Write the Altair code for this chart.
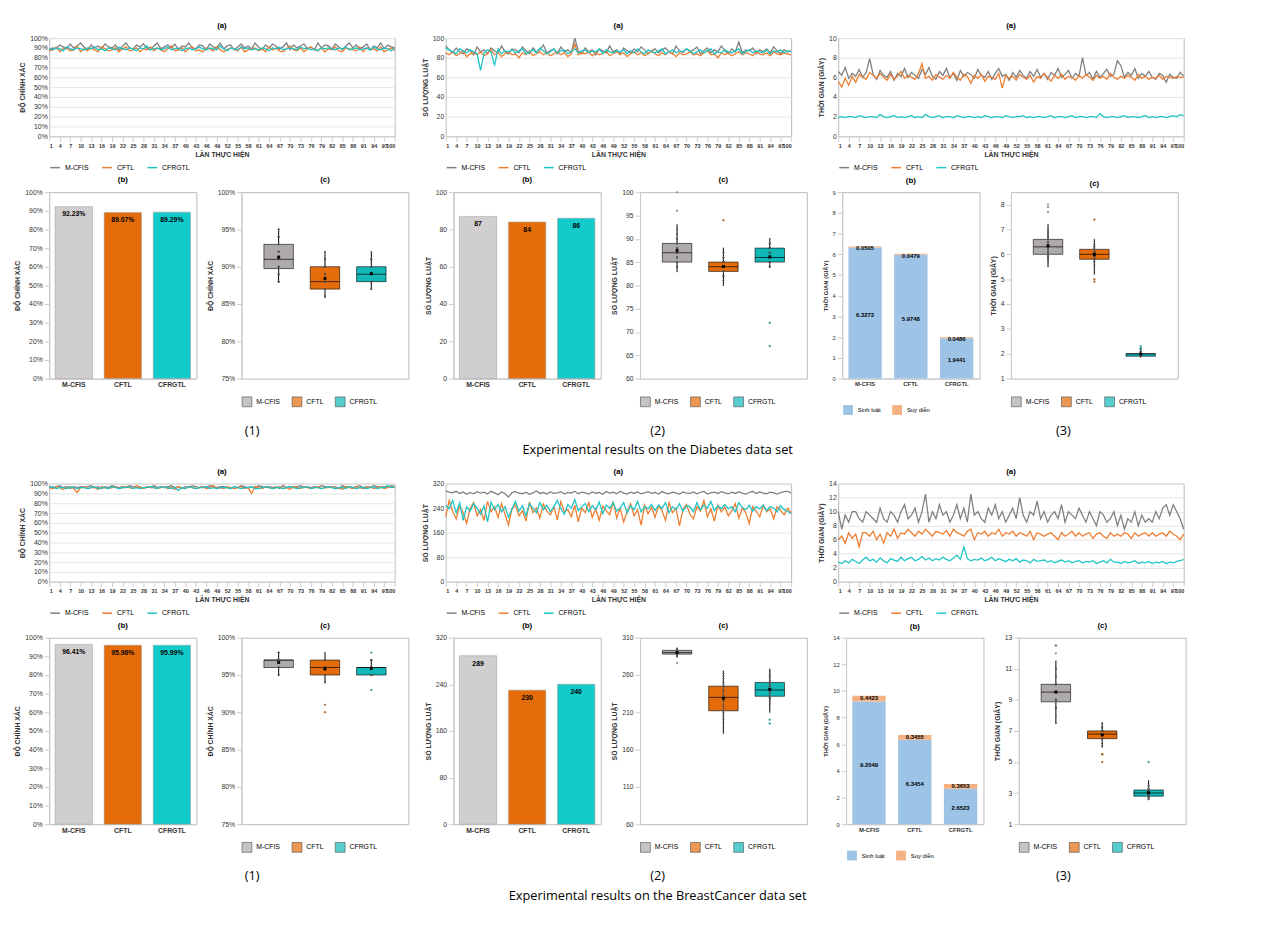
import altair as alt
import pandas as pd

METHODS = ["M-CFIS", "CFTL", "CFRGTL"]
LINE_COLORS = ["#7f7f7f", "#ed7d31", "#1fc4c4"]
BAR_COLORS = ["#d0cece", "#e46c0a", "#12cccc"]
BOX_COLORS = ["#aeaaaa", "#e46c0a", "#12b8b8"]

# ---------------- Diabetes ----------------
d_acc_m = [88,90,89,93,91,89,94,90,92,95, 91,88,93,90,92,89,94,91,90,93, 88,92,95,90,89,93,91,94,90,88, 92,95,89,91,93,90,94,88,92,91, 95,90,89,93,92,88,94,91,90,95,
           89,92,93,88,91,94,90,92,89,95, 91,88,93,90,94,92,89,91,95,88, 93,90,92,94,89,91,88,95,90,93, 92,89,94,91,88,92,95,90,93,89, 91,94,88,92,90,95,89,93,91,90]
d_acc_c = [87,88,91,86,89,90,87,88,92,86, 89,87,90,88,86,91,89,87,88,90, 86,89,91,87,88,90,86,89,88,91, 87,90,88,86,89,92,87,88,90,86, 89,91,87,88,86,90,89,87,91,88,
           86,88,90,89,87,91,86,88,89,90, 87,89,86,91,88,90,87,86,89,92, 88,87,90,86,89,91,88,87,90,86, 89,88,91,87,86,90,89,88,87,91, 86,90,88,89,87,91,86,88,90,87]
d_acc_r = [89,88,90,89,87,91,89,88,90,89, 88,90,89,91,88,89,87,90,89,88, 91,89,88,90,89,87,90,89,92,88, 89,90,88,89,91,88,89,90,87,89, 90,88,89,91,89,88,90,89,88,92,
           89,87,90,89,88,91,89,90,88,89, 88,90,89,87,90,89,91,88,89,90, 89,88,91,89,90,88,89,87,90,89, 90,89,88,90,89,91,88,89,90,88, 89,90,88,91,89,88,90,89,87,90]

d_rule_m = [92,88,85,90,86,84,89,87,83,91, 86,88,84,90,87,85,92,86,84,89, 88,85,91,87,84,90,86,88,93,85, 87,89,84,91,86,88,85,100,87,84, 90,86,88,83,89,87,85,92,86,88,
            84,90,87,85,89,86,91,88,84,87, 89,85,88,90,86,84,92,87,85,89, 86,88,91,84,87,90,85,88,86,92, 87,84,89,86,96,85,88,87,90,84, 88,86,89,85,91,87,84,88,86,87]
d_rule_c = [85,83,86,82,84,87,81,84,85,83, 86,82,84,88,83,85,81,84,86,83, 84,80,85,83,87,82,84,86,83,85, 82,84,86,83,85,81,84,94,83,85, 84,86,82,85,83,84,87,82,84,86,
            83,85,81,84,86,83,85,82,84,87, 84,82,85,83,86,84,81,85,83,84, 86,83,84,82,85,87,83,84,80,85, 83,85,82,84,86,83,85,84,82,86, 84,83,85,82,86,84,83,85,84,83]
d_rule_r = [90,88,86,84,89,87,85,88,86,84, 67,85,88,86,72,89,84,87,86,88, 85,87,89,84,86,88,85,90,87,84, 86,89,85,87,88,84,86,89,85,87, 88,85,87,86,89,84,88,86,85,87,
            86,88,84,87,85,89,86,84,88,86, 85,87,89,84,86,88,85,87,86,89, 87,84,86,88,85,87,89,84,86,85, 88,86,85,87,89,84,86,88,85,87, 86,85,88,84,87,86,88,85,87,86]

d_time_m = [6.6,6.2,7.0,5.9,6.4,6.1,6.8,6.0,6.5,7.9, 6.3,5.8,6.7,6.2,6.0,6.6,5.7,6.4,6.1,6.9, 6.0,6.5,6.2,5.9,6.8,6.3,7.0,6.1,5.8,6.6, 6.2,6.9,6.0,6.4,5.7,6.7,6.1,6.5,6.3,5.9,
            6.8,6.2,6.0,6.6,5.8,6.4,6.9,6.1,6.3,5.7, 6.5,6.0,6.7,6.2,5.9,6.6,6.1,6.8,6.0,6.4, 5.8,6.5,6.2,6.9,6.0,6.3,6.7,5.9,6.4,6.1, 8.0,6.2,6.5,5.8,6.6,6.0,6.4,6.8,6.1,6.3,
            7.7,7.2,6.0,6.5,6.2,6.9,5.9,6.4,6.1,6.6, 6.0,5.8,6.4,6.2,5.5,6.3,6.0,5.9,6.5,6.1]
d_time_c = [5.6,5.0,5.9,5.2,6.1,5.5,6.3,6.0,5.8,6.5, 6.2,5.9,6.4,6.0,5.7,6.3,5.8,6.1,6.6,5.9, 6.2,6.0,5.8,6.4,7.4,5.9,6.1,5.7,6.3,6.0, 5.8,6.2,5.9,6.5,6.0,5.7,6.3,6.1,5.4,6.2,
            5.9,6.3,5.6,6.1,6.0,5.8,6.4,4.9,6.2,5.9, 6.1,5.7,6.3,6.0,5.8,6.2,5.5,6.1,5.9,6.4, 6.0,5.6,6.2,5.9,6.3,5.8,6.1,6.0,5.7,6.2, 5.9,6.3,6.0,5.7,6.2,5.9,6.1,5.8,6.4,6.0,
            5.8,6.1,5.9,6.2,6.0,5.7,6.3,5.9,6.1,5.8, 6.0,5.9,6.2,5.8,6.1,6.0,5.9,6.1,6.0,6.0]
d_time_r = [1.9,2.0,1.9,2.0,2.0,1.9,2.1,2.0,1.9,2.0, 2.0,1.9,2.2,2.0,1.9,2.0,2.1,1.9,2.0,1.9, 2.0,2.1,1.9,2.0,1.9,2.2,2.0,1.9,2.0,2.1, 1.9,2.0,2.0,1.9,2.1,2.0,1.9,2.0,2.0,1.9,
            2.0,1.9,2.1,2.0,1.9,2.0,2.0,1.9,2.1,2.0, 1.9,2.0,2.0,2.1,1.9,2.0,1.9,2.0,2.0,1.9, 2.0,2.1,1.9,2.0,2.0,1.9,2.0,2.1,1.9,2.0, 2.0,1.9,2.0,2.0,1.9,2.3,2.0,1.9,2.0,2.0,
            1.9,2.0,2.1,1.9,2.0,2.0,1.9,2.0,2.1,1.9, 2.0,1.9,2.0,2.0,1.9,2.0,2.1,2.0,2.2,2.1]

d_bar_acc = [92.23, 89.07, 89.29]
d_bar_rule = [87, 84, 86]
d_bar_sinh = [6.3273, 5.9748, 1.9441]
d_bar_suy = [0.0505, 0.0479, 0.0486]

# ---------------- BreastCancer ----------------
b_acc_m = [97,96,97,98,96,97,95,97,96,97, 96,97,98,96,97,95,97,96,98,97, 96,97,96,98,97,96,97,95,97,96, 98,96,97,96,97,98,96,97,95,97, 96,98,97,96,97,96,98,97,96,97,
           97,96,95,97,96,98,97,96,97,96, 98,97,96,97,96,97,95,98,96,97, 96,97,98,96,97,96,97,96,98,97, 97,96,97,95,98,96,97,96,97,98, 96,97,96,98,97,96,97,96,98,97]
b_acc_c = [96,95,97,96,94,96,97,95,91,96, 97,95,96,96,94,97,96,95,96,97, 95,96,97,96,95,98,96,95,97,96, 96,95,96,97,95,96,94,97,96,95, 97,96,95,96,97,95,96,98,95,96,
           95,97,96,95,96,97,95,96,90,97, 96,95,97,96,95,96,97,95,96,94, 97,96,95,97,96,95,96,97,95,96, 96,97,95,96,94,97,96,95,97,96, 95,96,97,95,96,97,95,96,97,96]
b_acc_r = [96,97,95,96,96,95,97,96,95,96, 96,95,96,97,95,96,96,95,97,96, 95,96,96,97,95,96,95,96,96,97, 96,95,97,96,96,95,96,93,96,95, 97,96,95,96,96,97,95,96,95,96,
           96,96,95,97,96,95,96,96,97,95, 95,96,97,96,95,96,96,95,96,97, 96,95,96,96,97,95,96,96,95,96, 97,96,95,96,96,95,97,96,95,96, 96,95,96,97,95,96,96,98,96,97]

b_rule_m = [296,292,290,295,288,293,285,291,287,294, 289,292,286,295,290,284,293,288,276,291, 294,289,287,292,285,290,296,288,291,286, 293,288,290,294,286,291,289,295,287,292,
            290,286,293,288,291,285,294,289,292,287, 295,289,286,292,288,293,287,290,294,288, 291,286,294,289,287,292,290,285,293,289, 288,293,287,291,295,286,290,292,288,294,
            290,287,292,288,293,289,286,291,295,288, 293,289,287,292,290,286,291,294,295,289]
b_rule_c = [212,265,230,205,248,225,190,240,258,215, 235,200,262,228,245,210,255,220,185,238, 250,215,232,198,260,225,240,208,253,230, 218,245,202,262,228,235,212,250,195,240,
            225,258,210,238,200,247,232,218,262,208, 240,195,228,255,215,235,185,250,222,243, 210,248,232,200,258,225,240,182,235,252, 220,205,245,230,265,212,238,198,250,228,
            243,215,232,255,208,240,225,190,245,230, 212,250,228,238,205,245,232,218,240,225]
b_rule_r = [250,238,265,225,258,200,245,230,255,240, 220,248,195,260,235,252,228,245,210,238, 262,230,248,215,255,240,225,258,235,250, 228,245,265,238,220,252,240,268,232,245,
            255,228,248,235,260,222,250,240,258,230, 240,258,225,248,235,262,228,245,238,252, 232,250,240,258,225,245,235,255,230,248, 245,228,258,235,250,240,262,232,248,238,
            252,238,245,228,258,242,235,250,230,245, 238,250,232,245,240,228,248,235,230,222]

b_time_m = [10.0,7.5,9.5,8.5,10.0,10.0,9.0,8.5,10.0,9.5, 9.0,8.5,10.5,9.0,8.5,10.0,9.5,8.5,10.0,11.0, 9.0,9.5,10.5,8.5,10.0,12.5,8.5,10.0,9.0,11.0, 9.5,10.0,8.5,9.5,11.0,9.0,10.5,8.5,12.5,9.5,
            10.0,9.0,8.5,10.5,9.5,11.0,9.0,10.0,8.5,9.5, 10.5,9.0,12.0,9.5,8.5,10.0,9.5,11.5,9.0,10.0, 8.5,9.5,10.0,9.0,11.0,8.5,10.0,9.5,9.0,10.5, 9.5,8.5,10.0,9.0,8.0,10.0,9.5,8.5,9.0,10.0,
            8.0,9.5,7.5,9.0,8.5,10.0,8.0,9.5,8.5,9.0, 8.5,10.0,9.0,10.5,11.0,9.5,11.0,10.0,9.0,7.5]
b_time_c = [6.0,6.5,5.5,7.0,6.2,6.8,5.0,7.0,7.0,6.5, 7.2,6.0,6.8,5.5,7.0,6.5,7.5,6.2,7.0,6.8, 7.5,7.0,6.5,7.2,6.8,7.5,7.0,6.5,7.2,7.0, 6.8,7.3,6.5,7.5,7.0,6.8,6.5,7.2,7.5,6.0,
            7.0,6.8,7.2,6.5,7.0,6.8,7.5,6.5,7.0,6.8, 7.2,6.5,7.0,6.8,6.5,7.2,6.0,7.0,6.8,6.5, 6.8,7.0,6.5,6.0,7.0,6.5,6.8,7.2,6.5,7.0, 6.5,6.8,7.0,6.2,6.8,7.0,6.5,6.2,7.0,6.5,
            6.8,6.5,7.0,6.8,6.2,7.0,6.5,6.8,7.0,6.5, 7.0,6.5,6.8,7.0,6.5,7.2,6.8,6.5,6.0,6.8]
b_time_r = [2.8,2.6,3.0,2.7,3.2,2.9,2.6,3.1,3.5,3.0, 3.2,2.8,3.4,3.0,2.7,3.3,3.1,2.9,3.5,3.0, 3.3,3.5,3.0,3.2,3.6,3.1,3.4,3.0,3.3,3.1, 3.5,3.2,3.0,3.4,3.8,3.2,5.0,3.3,3.0,3.2,
            3.1,3.4,3.0,3.2,3.5,3.0,3.3,3.1,2.9,3.2, 3.0,3.3,2.8,3.1,3.0,2.7,3.2,2.9,3.0,3.1, 2.8,3.0,2.7,2.9,3.1,2.8,3.0,2.7,2.9,3.0, 2.7,2.9,2.8,3.0,2.6,2.8,3.0,2.7,3.2,2.8,
            2.8,2.6,2.9,2.7,2.8,3.0,2.6,2.8,2.7,2.9, 2.6,2.8,2.7,2.9,2.6,2.8,2.7,2.9,3.0,3.2]

b_bar_acc = [96.41, 95.96, 95.99]
b_bar_rule = [289, 230, 240]
b_bar_sinh = [9.2049, 6.3454, 2.6523]
b_bar_suy = [0.4423, 0.3455, 0.3653]

RUNS = list(range(1, 101))
XTICKS = list(range(1, 101, 3))
FS = 7
BOT_H = 190

def long_df(m, c, r):
    rows = []
    for name, vals in zip(METHODS, [m, c, r]):
        for i, v in zip(RUNS, vals):
            rows.append({"run": i, "method": name, "v": v})
    return pd.DataFrame(rows)

def pct_expr(pct):
    return "datum.value + '%'" if pct else "datum.label"

def line_chart(m, c, r, ytitle, ydom, ystep, pct):
    df = long_df(m, c, r)
    return alt.Chart(df, title=alt.Title("(a)", fontSize=8)).mark_line(strokeWidth=1.3).encode(
        x=alt.X("run:Q", scale=alt.Scale(domain=[1, 100], nice=False),
                axis=alt.Axis(values=XTICKS, title="LẦN THỰC HIỆN", grid=False, labelFontSize=5.5,
                              titleFontSize=FS, labelFontWeight="bold", labelOverlap=False,
                              labelBound=False, titlePadding=2)),
        y=alt.Y("v:Q", scale=alt.Scale(domain=ydom, nice=False),
                axis=alt.Axis(values=list(range(ydom[0], ydom[1] + 1, ystep)), title=ytitle,
                              labelExpr=pct_expr(pct), labelFontSize=FS, titleFontSize=FS, domain=False, ticks=False)),
        color=alt.Color("method:N", scale=alt.Scale(domain=METHODS, range=LINE_COLORS),
                        legend=alt.Legend(orient="bottom", title=None, labelFontSize=FS, symbolType="stroke", offset=4)),
    ).properties(width=352, height=100)

def bar_chart(vals, ytitle, ydom, ystep, pct):
    df = pd.DataFrame({"method": METHODS, "v": vals,
                       "lab": [f"{v:.2f}%" if pct else f"{v:g}" for v in vals]})
    base = alt.Chart(df).encode(
        x=alt.X("method:N", sort=METHODS, title=None,
                axis=alt.Axis(labelAngle=0, labelFontSize=FS, labelFontWeight="bold", ticks=False)),
        y=alt.Y("v:Q", scale=alt.Scale(domain=ydom, nice=False),
                axis=alt.Axis(values=list(range(ydom[0], ydom[1] + 1, ystep)), title=ytitle,
                              labelExpr=pct_expr(pct), labelFontSize=FS, titleFontSize=FS, grid=False)),
    )
    bars = base.mark_bar(size=38, stroke="#999", strokeWidth=0.5).encode(
        color=alt.Color("method:N", scale=alt.Scale(domain=METHODS, range=BAR_COLORS), legend=None))
    text = base.mark_text(dy=8, fontSize=FS, fontWeight="bold").encode(text="lab:N")
    return (bars + text).properties(width=150, height=BOT_H, title=alt.Title("(b)", fontSize=8))

def time_bar(sinh, suy, ydom, ystep):
    rows = []
    for mth, a, b in zip(METHODS, sinh, suy):
        rows.append({"method": mth, "part": "Sinh luật", "o": 0, "v": a, "lab": f"{a:.4f}", "ly": a / 2})
        rows.append({"method": mth, "part": "Suy diễn", "o": 1, "v": b, "lab": f"{b:.4f}", "ly": a + b})
    df = pd.DataFrame(rows)
    x = alt.X("method:N", sort=METHODS, title=None,
              axis=alt.Axis(labelAngle=0, labelFontSize=6, labelFontWeight="bold", ticks=False))
    yax = alt.Axis(values=list(range(ydom[0], ydom[1] + 1, ystep)), title="THỜI GIAN (GIÂY)",
                   labelFontSize=6, titleFontSize=6, grid=False)
    ysc = alt.Scale(domain=ydom, nice=False)
    bars = alt.Chart(df).mark_bar(size=34).encode(
        x=x,
        y=alt.Y("v:Q", stack="zero", scale=ysc, axis=yax),
        order=alt.Order("o:Q"),
        color=alt.Color("part:N", scale=alt.Scale(domain=["Sinh luật", "Suy diễn"], range=["#9dc3e6", "#f4b183"]),
                        legend=alt.Legend(orient="bottom", title=None, labelFontSize=6, symbolType="square")),
    )
    text = alt.Chart(df).mark_text(fontSize=6, fontWeight="bold", dy=2).encode(
        x=x, y=alt.Y("ly:Q", scale=ysc, axis=yax), text="lab:N")
    return (bars + text).properties(width=140, height=BOT_H, title=alt.Title("(b)", fontSize=8))

def box_chart(m, c, r, ytitle, ydom, yvals, pct):
    df = long_df(m, c, r)
    ysc = alt.Scale(domain=ydom, nice=False)
    yax = alt.Axis(values=yvals, title=ytitle, labelExpr=pct_expr(pct),
                   labelFontSize=FS, titleFontSize=FS, grid=False, labelOverlap=False)
    y = alt.Y("v:Q", scale=ysc, axis=yax)
    x = alt.X("method:N", sort=METHODS, title=None, axis=None, scale=alt.Scale(paddingOuter=0.3))
    box = alt.Chart(df).mark_boxplot(size=30, extent=1.5, median={"color": "black"},
                                     rule={"color": "black"}, ticks=False,
                                     box={"stroke": "black", "strokeWidth": 0.6},
                                     outliers={"color": "#333", "size": 6, "filled": True}).encode(
        x=x, y=y,
        color=alt.Color("method:N", scale=alt.Scale(domain=METHODS, range=BOX_COLORS),
                        legend=alt.Legend(orient="bottom", title=None, labelFontSize=FS, symbolType="square",
                                          symbolStrokeColor="black", symbolStrokeWidth=0.6)))
    pts = alt.Chart(df).mark_point(shape="diamond", size=4, filled=True, color="#555", opacity=0.6).encode(x=x, y=y)
    mean = alt.Chart(df).mark_point(shape="cross", angle=45, size=14, filled=True, color="black").encode(
        x=x, y=alt.Y("mean(v):Q", scale=ysc, axis=yax))
    return (box + pts + mean).properties(width=170, height=BOT_H, title=alt.Title("(c)", fontSize=8))

def caption(name):
    df = pd.DataFrame({"t": ["(1)", "(2)", "(3)", f"Experimental results on the {name} data set"],
                       "col": [0, 1, 2, 1], "row": [0, 0, 0, 1]})
    return alt.Chart(df).mark_text(font="Open Sans", fontSize=13).encode(
        x=alt.X("col:O", axis=None, scale=alt.Scale(paddingOuter=0)),
        y=alt.Y("row:O", axis=None), text="t:N").properties(
        width=1240, height=40, view=alt.ViewBackground(stroke="transparent"))

def section(name, acc, rule, tim, bacc, brule, bsinh, bsuy, rdom, rstep, tdom, tstep,
            crdom, crvals, ctdom, ctvals, cadom, btdom, btstep):
    top = alt.hconcat(
        line_chart(*acc, "ĐỘ CHÍNH XÁC", [0, 100], 10, True),
        line_chart(*rule, "SỐ LƯỢNG LUẬT", rdom, rstep, False),
        line_chart(*tim, "THỜI GIAN (GIÂY)", tdom, tstep, False),
        spacing=22).resolve_scale(color="independent")
    bot = alt.hconcat(
        alt.hconcat(bar_chart(bacc, "ĐỘ CHÍNH XÁC", [0, 100], 10, True),
                    box_chart(*acc, "ĐỘ CHÍNH XÁC", cadom, [75, 80, 85, 90, 95, 100], True),
                    spacing=8).resolve_scale(color="independent"),
        alt.hconcat(bar_chart(brule, "SỐ LƯỢNG LUẬT", rdom, rstep, False),
                    box_chart(*rule, "SỐ LƯỢNG LUẬT", crdom, crvals, False),
                    spacing=8).resolve_scale(color="independent"),
        alt.hconcat(time_bar(bsinh, bsuy, btdom, btstep),
                    box_chart(*tim, "THỜI GIAN (GIÂY)", ctdom, ctvals, False),
                    spacing=8).resolve_scale(color="independent"),
        spacing=14).resolve_scale(color="independent")
    return alt.vconcat(top, bot, caption(name), spacing=4).resolve_scale(color="independent")

s1 = section("Diabetes", (d_acc_m, d_acc_c, d_acc_r), (d_rule_m, d_rule_c, d_rule_r),
             (d_time_m, d_time_c, d_time_r), d_bar_acc, d_bar_rule, d_bar_sinh, d_bar_suy,
             [0, 100], 20, [0, 10], 2, [60, 100], [60, 65, 70, 75, 80, 85, 90, 95, 100],
             [1, 8.5], [1, 2, 3, 4, 5, 6, 7, 8], [75, 100], [0, 9], 1)
s2 = section("BreastCancer", (b_acc_m, b_acc_c, b_acc_r), (b_rule_m, b_rule_c, b_rule_r),
             (b_time_m, b_time_c, b_time_r), b_bar_acc, b_bar_rule, b_bar_sinh, b_bar_suy,
             [0, 320], 80, [0, 14], 2, [60, 310], [60, 110, 160, 210, 260, 310],
             [1, 13], [1, 3, 5, 7, 9, 11, 13], [75, 100], [0, 14], 2)

chart = alt.vconcat(s1, s2, spacing=6).resolve_scale(color="independent").configure(
    font="Liberation Sans").configure_view(stroke="#bbb").configure_axis(
    gridColor="#e4e4e4", domainColor="#ccc", tickColor="#ccc", titleFontWeight="bold",
    labelColor="#333", titleColor="#333").configure_title(anchor="middle", offset=4)

chart.save("out.html", embed_options={"renderer": "svg", "actions": False})
